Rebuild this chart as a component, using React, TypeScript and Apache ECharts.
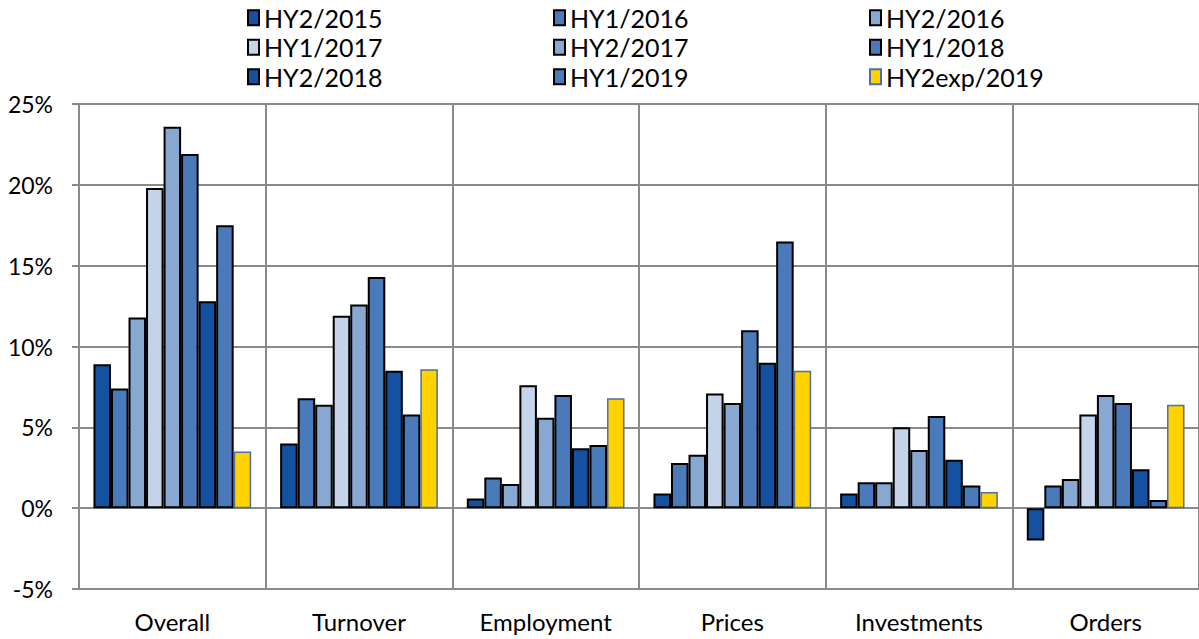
import React, { useEffect, useRef } from "react";
import * as echarts from "echarts";

const categories = ["Overall", "Turnover", "Employment", "Prices", "Investments", "Orders"];

const seriesNames = [
  "HY2/2015", "HY1/2016", "HY2/2016",
  "HY1/2017", "HY2/2017", "HY1/2018",
  "HY2/2018", "HY1/2019", "HY2exp/2019",
];

const hy2_2015 = [8.9, 4.0, 0.6, 0.9, 0.9, -2.0];
const hy1_2016 = [7.4, 6.8, 1.9, 2.8, 1.6, 1.4];
const hy2_2016 = [11.8, 6.4, 1.5, 3.3, 1.6, 1.8];
const hy1_2017 = [19.8, 11.9, 7.6, 7.1, 5.0, 5.8];
const hy2_2017 = [23.6, 12.6, 5.6, 6.5, 3.6, 7.0];
const hy1_2018 = [21.9, 14.3, 7.0, 11.0, 5.7, 6.5];
const hy2_2018 = [12.8, 8.5, 3.7, 9.0, 3.0, 2.4];
const hy1_2019 = [17.5, 5.8, 3.9, 16.5, 1.4, 0.5];
const hy2exp_2019 = [3.5, 8.6, 6.8, 8.5, 1.0, 6.4];

const seriesValues = [
  hy2_2015, hy1_2016, hy2_2016,
  hy1_2017, hy2_2017, hy1_2018,
  hy2_2018, hy1_2019, hy2exp_2019,
];

const seriesColors = [
  "#1451a0", "#4a7aba", "#89a8d1",
  "#c5d4ea", "#89a8d1", "#4a7aba",
  "#1451a0", "#4a7aba", "#ffd200",
];

const yTicks = { min: -5, max: 25, interval: 5 };

const FONT = "Lato";
const GRID_COLOR = "#8a8a8a";

export default function App() {
  const ref = useRef<HTMLDivElement>(null);

  useEffect(() => {
    if (!ref.current) return;
    const chart = echarts.init(ref.current, null, { renderer: "svg" });

    const series = seriesNames.map((name, i) => ({
      name,
      type: "bar",
      data: seriesValues[i],
      barGap: "0%",
      barCategoryGap: "15.5%",
      itemStyle: {
        color: seriesColors[i],
        borderColor: i === 8 ? "#4d6fa3" : "#000000",
        borderWidth: i === 8 ? 1.5 : 2,
      },
    }));

    const legendCol = (names: string[], left: number) => ({
      orient: "vertical",
      left,
      top: 3,
      padding: 0,
      itemGap: 0,
      itemWidth: 11,
      itemHeight: 15,
      icon: "rect",
      data: names,
      selectedMode: false,
      textStyle: {
        fontFamily: FONT,
        fontSize: 25,
        color: "#000",
        lineHeight: 29.5,
      },
    });

    chart.setOption({
      animation: false,
      backgroundColor: "#ffffff",
      textStyle: { fontFamily: FONT },
      legend: [
        legendCol([seriesNames[0], seriesNames[3], seriesNames[6]], 247),
        legendCol([seriesNames[1], seriesNames[4], seriesNames[7]], 553),
        legendCol([seriesNames[2], seriesNames[5], seriesNames[8]], 869),
      ],
      grid: {
        left: 79,
        right: -5,
        top: 104,
        bottom: 50,
        containLabel: false,
      },
      xAxis: {
        type: "category",
        data: categories,
        position: "bottom",
        axisLine: { show: false },
        axisTick: { show: false },
        splitLine: {
          show: true,
          interval: 0,
          lineStyle: { color: GRID_COLOR, width: 2 },
        },
        axisLabel: {
          fontFamily: FONT,
          fontSize: 24,
          color: "#000",
          margin: 20,
          interval: 0,
        },
      },
      yAxis: {
        type: "value",
        min: yTicks.min,
        max: yTicks.max,
        interval: yTicks.interval,
        axisLine: { show: true, lineStyle: { color: GRID_COLOR, width: 2 } },
        axisTick: { show: true, length: 7, lineStyle: { color: GRID_COLOR, width: 2 } },
        splitLine: { show: true, lineStyle: { color: GRID_COLOR, width: 2 } },
        axisLabel: {
          formatter: "{value}%",
          fontFamily: FONT,
          fontSize: 23,
          color: "#000",
          margin: 26,
        },
      },
      series,
    });

    return () => chart.dispose();
  }, []);

  return (
    <div
      ref={ref}
      style={{ position: "fixed", left: 0, top: 0, width: 1199, height: 639, background: "#fff" }}
    />
  );
}
